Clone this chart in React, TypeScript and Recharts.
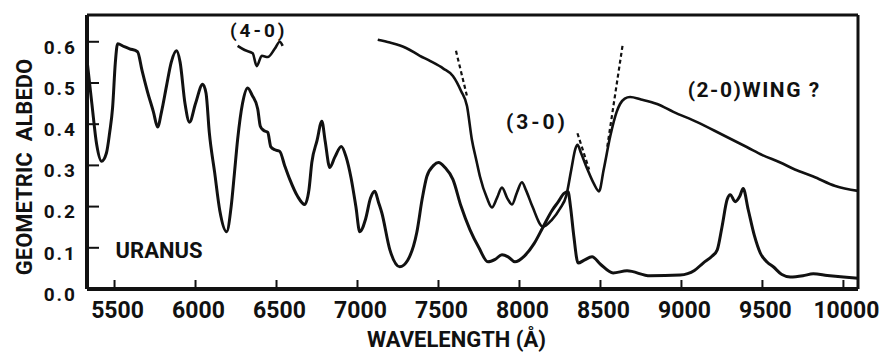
import { LineChart, Line, XAxis, YAxis, ReferenceDot } from 'recharts';

// Uranus geometric albedo (lower curve, full range)
const uranusWave = [
  5333, 5360, 5390, 5420, 5450, 5470, 5488, 5505, 5519, 5560, 5593, 5642, 5670, 5704, 5740, 5766,
  5790, 5821, 5850, 5883, 5905, 5935, 5963, 6000, 6044, 6065, 6085, 6118, 6150, 6192, 6220, 6240,
  6260, 6290, 6322, 6350, 6384, 6400, 6420, 6446, 6465, 6490, 6520, 6550, 6582, 6630, 6674, 6700,
  6718, 6750, 6780, 6800, 6829, 6860, 6900, 6930, 6960, 6990, 7014, 7050, 7080, 7107, 7130, 7150,
  7200, 7261, 7310, 7366, 7400, 7428, 7470, 7500, 7540, 7589, 7640, 7694, 7750, 7805, 7850, 7892,
  7930, 7972, 8030, 8090, 8145, 8200, 8240, 8275, 8300, 8315, 8335, 8362, 8400, 8448, 8500, 8578,
  8664, 8806, 8992, 9080, 9134, 9190, 9221, 9250, 9282, 9301, 9332, 9360, 9381, 9412, 9450, 9486,
  9530, 9567, 9620, 9672, 9750, 9814, 9900, 10000, 10090,
];
const uranusAlbedo = [
  0.545, 0.45, 0.35, 0.31, 0.33, 0.38, 0.44, 0.55, 0.595, 0.588, 0.583, 0.576, 0.53, 0.478, 0.43, 0.393,
  0.43, 0.493, 0.55, 0.578, 0.55, 0.45, 0.405, 0.45, 0.497, 0.475, 0.38, 0.283, 0.19, 0.139, 0.2, 0.28,
  0.363, 0.45, 0.488, 0.47, 0.437, 0.395, 0.385, 0.38, 0.345, 0.338, 0.334, 0.3, 0.266, 0.225, 0.205, 0.24,
  0.307, 0.36, 0.407, 0.36, 0.295, 0.32, 0.346, 0.32, 0.27, 0.2, 0.139, 0.17, 0.22, 0.237, 0.21, 0.185,
  0.095, 0.054, 0.07, 0.137, 0.22, 0.273, 0.3, 0.307, 0.295, 0.266, 0.2, 0.144, 0.1, 0.066, 0.072, 0.083,
  0.078, 0.066, 0.08, 0.11, 0.15, 0.19, 0.212, 0.232, 0.236, 0.2, 0.13, 0.063, 0.07, 0.078, 0.06, 0.039,
  0.044, 0.032, 0.034, 0.045, 0.063, 0.08, 0.095, 0.15, 0.217, 0.229, 0.212, 0.225, 0.244, 0.193, 0.13, 0.088,
  0.065, 0.054, 0.035, 0.029, 0.032, 0.037, 0.033, 0.029, 0.026,
];

// upper curve from 7100 Å onwards
const upperWave = [
  7125, 7200, 7300, 7385, 7450, 7530, 7589, 7640, 7676, 7706, 7735, 7756, 7800, 7830, 7860, 7892,
  7925, 7954, 7985, 8015, 8040, 8080, 8145, 8200, 8250, 8290, 8320, 8345, 8358, 8380, 8420, 8460,
  8491, 8520, 8560, 8600, 8621, 8650, 8683, 8750, 8850, 8950, 9097, 9250, 9406, 9500, 9610, 9700,
  9814, 9950, 10090,
];
const upperAlbedo = [
  0.605, 0.598, 0.585, 0.566, 0.553, 0.535, 0.517, 0.48, 0.444, 0.363, 0.31, 0.273, 0.22, 0.198, 0.22, 0.246,
  0.22, 0.205, 0.235, 0.259, 0.24, 0.2, 0.151, 0.168, 0.195, 0.228, 0.29, 0.34, 0.35, 0.33, 0.29, 0.255,
  0.237, 0.29, 0.37, 0.43, 0.449, 0.462, 0.466, 0.46, 0.449, 0.43, 0.405, 0.375, 0.344, 0.325, 0.307, 0.29,
  0.273, 0.25, 0.238,
];

// (4-0) band fragment drawn above the 6400 peak
const band40Wave = [6260, 6303, 6353, 6378, 6409, 6446, 6489, 6520, 6538];
const band40Albedo = [0.59, 0.58, 0.572, 0.541, 0.566, 0.563, 0.583, 0.6, 0.59];

// dashed extrapolations
const dash1Wave = [7608, 7676];
const dash1Albedo = [0.578, 0.468];
const dash2Wave = [8358, 8430];
const dash2Albedo = [0.378, 0.29];
const dash3Wave = [8636, 8540];
const dash3Albedo = [0.59, 0.34];

const xTicks = [5500, 6000, 6500, 7000, 7500, 8000, 8500, 9000, 9500, 10000];
const yTicks = [0, 0.1, 0.2, 0.3, 0.4, 0.5, 0.6];

const toRows = (w: number[], a: number[]) => w.map((x, i) => ({ w: x, a: a[i] }));

const uranusData = toRows(uranusWave, uranusAlbedo);
const upperData = toRows(upperWave, upperAlbedo);
const band40Data = toRows(band40Wave, band40Albedo);
const dash1Data = toRows(dash1Wave, dash1Albedo);
const dash2Data = toRows(dash2Wave, dash2Albedo);
const dash3Data = toRows(dash3Wave, dash3Albedo);

const FONT = "Roboto, 'DejaVu Sans', sans-serif";
const INK = '#111';
const xDomain = [5330, 10090];
const yDomain = [0, 0.665];

const annotationStyle = { fill: INK, fontFamily: FONT, fontWeight: 700 };

export default function App() {
  return (
    <div style={{ position: 'absolute', left: 0, top: 0, background: '#fff' }}>
      <LineChart width={893} height={353} margin={{ top: 0, right: 0, bottom: 0, left: 0 }}>
        <XAxis
          dataKey="w"
          type="number"
          domain={xDomain}
          ticks={xTicks}
          interval={0}
          height={64}
          allowDataOverflow
          axisLine={{ stroke: INK, strokeWidth: 4 }}
          tickLine={{ stroke: INK, strokeWidth: 2 }}
          tickSize={-9}
          tickMargin={22}
          tick={{ fill: INK, fontSize: 23, fontWeight: 700, fontFamily: FONT, dx: 3 }}
          label={{
            content: ({ viewBox }: any) => (
              <text
                x={viewBox.x + viewBox.width / 2 - 16}
                y={viewBox.y + 58}
                textAnchor="middle"
                fill={INK}
                fontSize={22}
                fontWeight={700}
                fontFamily={FONT}
              >
                WAVELENGTH (Å)
              </text>
            ),
          }}
        />
        <XAxis
          xAxisId="top"
          orientation="top"
          type="number"
          domain={xDomain}
          ticks={xTicks}
          interval={0}
          height={15}
          allowDataOverflow
          axisLine={{ stroke: INK, strokeWidth: 3 }}
          tickLine={{ stroke: INK, strokeWidth: 2 }}
          tickSize={-8}
          tick={false}
        />
        <YAxis
          type="number"
          domain={yDomain}
          ticks={yTicks}
          interval={0}
          width={87}
          allowDataOverflow
          axisLine={{ stroke: INK, strokeWidth: 4 }}
          tickLine={{ stroke: INK, strokeWidth: 2 }}
          tickSize={-12}
          tickMargin={22}
          tickFormatter={(v: number) => v.toFixed(1)}
          tick={{ fill: INK, fontSize: 19, fontWeight: 700, fontFamily: FONT, dy: 5, letterSpacing: 2 }}
          label={{
            content: ({ viewBox }: any) => {
              const cx = viewBox.x + 24;
              const cy = viewBox.y + viewBox.height / 2 + 15;
              return (
                <text
                  x={cx}
                  y={cy}
                  transform={`rotate(-90 ${cx} ${cy})`}
                  textAnchor="middle"
                  dominantBaseline="central"
                  fill={INK}
                  fontSize={22}
                  fontWeight={700}
                  fontFamily={FONT}
                  style={{ whiteSpace: 'pre' }}
                >
                  {'GEOMETRIC  ALBEDO'}
                </text>
              );
            },
          }}
        />
        <YAxis
          yAxisId="right"
          orientation="right"
          type="number"
          domain={yDomain}
          ticks={yTicks}
          interval={0}
          width={35}
          allowDataOverflow
          axisLine={{ stroke: INK, strokeWidth: 3 }}
          tickLine={{ stroke: INK, strokeWidth: 2 }}
          tickSize={-10}
          tick={false}
        />

        <Line data={uranusData} dataKey="a" type="monotone" stroke={INK} strokeWidth={3} dot={false} isAnimationActive={false} />
        <Line data={upperData} dataKey="a" type="monotone" stroke={INK} strokeWidth={2.6} dot={false} isAnimationActive={false} />
        <Line data={band40Data} dataKey="a" type="monotone" stroke={INK} strokeWidth={2.6} dot={false} isAnimationActive={false} />
        <Line data={dash1Data} dataKey="a" type="linear" stroke={INK} strokeWidth={2.2} strokeDasharray="4 3" dot={false} isAnimationActive={false} />
        <Line data={dash2Data} dataKey="a" type="linear" stroke={INK} strokeWidth={2.2} strokeDasharray="4 3" dot={false} isAnimationActive={false} />
        <Line data={dash3Data} dataKey="a" type="linear" stroke={INK} strokeWidth={2.2} strokeDasharray="4 3" dot={false} isAnimationActive={false} />

        {/* text annotations, anchored in data space */}
        <ReferenceDot x={6390} y={0.629} r={0} label={{ value: '(4-0)', position: 'center', fontSize: 19, letterSpacing: 3, ...annotationStyle }} />
        <ReferenceDot x={8108} y={0.407} r={0} label={{ value: '(3-0)', position: 'center', fontSize: 21, letterSpacing: 3, ...annotationStyle }} />
        <ReferenceDot x={9449} y={0.483} r={0} label={{ value: '(2-0)WING ?', position: 'center', fontSize: 21, letterSpacing: 1.5, ...annotationStyle }} />
        <ReferenceDot x={5775} y={0.095} r={0} label={{ value: 'URANUS', position: 'center', fontSize: 22, ...annotationStyle }} />
      </LineChart>
    </div>
  );
}
